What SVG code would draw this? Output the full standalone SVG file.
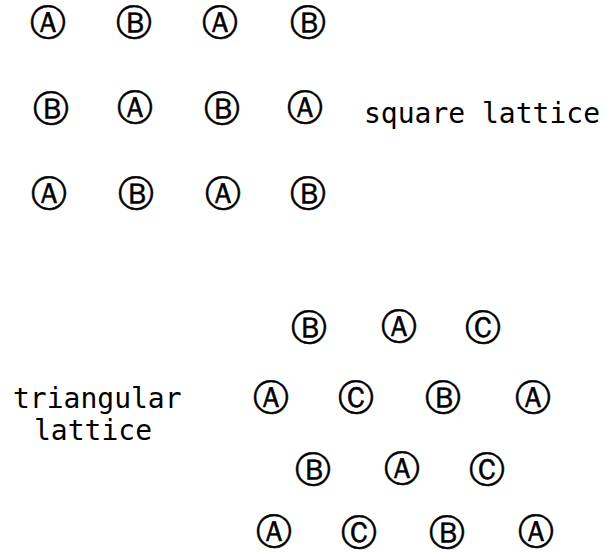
<svg xmlns="http://www.w3.org/2000/svg" width="605" height="553" viewBox="0 0 605 553">
<style>
.n{font-family:"DejaVu Sans","Noto Sans",sans-serif;font-size:36px;text-anchor:middle;dominant-baseline:central;fill:#000;stroke:#000;stroke-width:0.5px}
.t{font-family:"DejaVu Sans Mono","Liberation Mono",monospace;font-size:28px;fill:#000}
</style>
<rect width="605" height="553" fill="#fff"/>
<g id="square">
<text id="s11" class="n" x="48" y="22">Ⓐ</text>
<text id="s12" class="n" x="134" y="22">Ⓑ</text>
<text id="s13" class="n" x="220" y="22">Ⓐ</text>
<text id="s14" class="n" x="308" y="22">Ⓑ</text>
<text id="s21" class="n" x="51" y="108">Ⓑ</text>
<text id="s22" class="n" x="135" y="107">Ⓐ</text>
<text id="s23" class="n" x="222" y="108">Ⓑ</text>
<text id="s24" class="n" x="305" y="107">Ⓐ</text>
<text id="s31" class="n" x="49" y="193">Ⓐ</text>
<text id="s32" class="n" x="136" y="193">Ⓑ</text>
<text id="s33" class="n" x="223" y="193">Ⓐ</text>
<text id="s34" class="n" x="308" y="193">Ⓑ</text>
</g>
<g id="tri">
<text id="t11" class="n" x="309" y="327">Ⓑ</text>
<text id="t12" class="n" x="399" y="326">Ⓐ</text>
<text id="t13" class="n" x="483" y="327">Ⓒ</text>
<text id="t21" class="n" x="271" y="397">Ⓐ</text>
<text id="t22" class="n" x="356" y="397">Ⓒ</text>
<text id="t23" class="n" x="443" y="397">Ⓑ</text>
<text id="t24" class="n" x="533" y="397">Ⓐ</text>
<text id="t31" class="n" x="313" y="469">Ⓑ</text>
<text id="t32" class="n" x="402" y="468">Ⓐ</text>
<text id="t33" class="n" x="487" y="469">Ⓒ</text>
<text id="t41" class="n" x="274" y="531">Ⓐ</text>
<text id="t42" class="n" x="359" y="532">Ⓒ</text>
<text id="t43" class="n" x="447" y="532">Ⓑ</text>
<text id="t44" class="n" x="536" y="531">Ⓐ</text>
</g>
<g id="labels">
<text id="lab-square" class="t" x="364" y="123">square lattice</text>
<text id="lab-tri1" class="t" x="13" y="408">triangular</text>
<text id="lab-tri2" class="t" x="34" y="440">lattice</text>
</g>
</svg>
